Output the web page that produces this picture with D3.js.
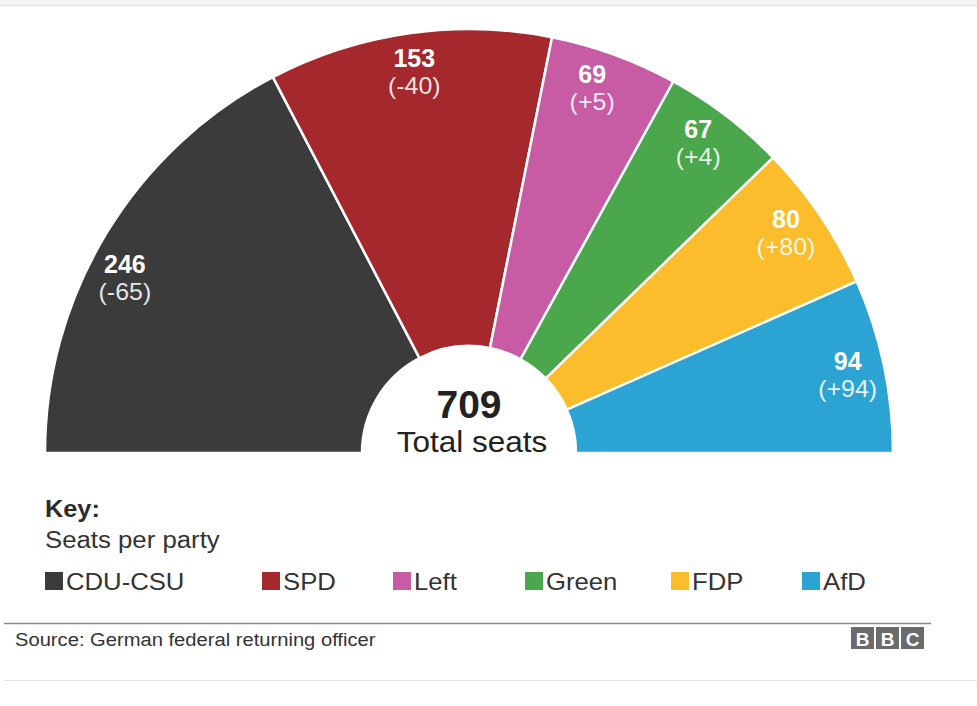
<!DOCTYPE html>
<html>
<head>
<meta charset="utf-8">
<script src="https://cdn.jsdelivr.net/npm/d3@7"></script>
<style>
  body { margin: 0; background: #fff; }
  text { font-family: "Liberation Sans", Arial, Helvetica, sans-serif; }
</style>
</head>
<body>
<div id="chart"></div>
<script>
// Data
var parties = ["CDU-CSU", "SPD", "Left", "Green", "FDP", "AfD"];
var seats = [246, 153, 69, 67, 80, 94];
var changes = ["(-65)", "(-40)", "(+5)", "(+4)", "(+80)", "(+94)"];
var colors = ["#3b3b3b", "#a4282c", "#c75ca5", "#4aa74b", "#fbbd2c", "#2ba3d3"];
var totalLabel = "Total seats";

// Layout (not data)
var svgWidth = 977;
var svgHeight = 706;
var cx = 469;
var cy = 453;
var outerR = 424;
var innerR = 107;
var labelR = 387;
var labelNudge = [-4, 0, -1.5, -1, -1, 0]; // degrees
var legendX = [45, 262, 393, 525, 671, 802];

// stretch text horizontally (reference type is a bit wider than Arial)
function widen(sel, k) {
    sel.each(function() {
        var w = this.getComputedTextLength();
        d3.select(this)
            .attr("textLength", w * k)
            .attr("lengthAdjust", "spacingAndGlyphs");
    });
}

var svg = d3.select("#chart")
    .append("svg")
    .attr("width", svgWidth)
    .attr("height", svgHeight);

// top strip
svg.append("rect")
    .attr("x", 0).attr("y", 0)
    .attr("width", svgWidth).attr("height", 5)
    .attr("fill", "#f3f3f3");
svg.append("line")
    .attr("x1", 0).attr("x2", svgWidth)
    .attr("y1", 5.5).attr("y2", 5.5)
    .attr("stroke", "#dedede")
    .attr("stroke-width", 1);

var data = parties.map(function(p, i) {
    return { party: p, seats: seats[i], change: changes[i], color: colors[i], i: i };
});

var total = d3.sum(seats);

var pie = d3.pie()
    .sort(null)
    .value(d => d.seats)
    .startAngle(-Math.PI / 2)
    .endAngle(Math.PI / 2);

var arc = d3.arc()
    .innerRadius(innerR)
    .outerRadius(outerR);

var labelArc = d3.arc()
    .innerRadius(labelR)
    .outerRadius(labelR);

var chartGroup = svg.append("g")
    .attr("transform", `translate(${cx}, ${cy})`);

var arcs = pie(data);

chartGroup.selectAll("path")
    .data(arcs)
    .enter()
    .append("path")
    .attr("d", arc)
    .attr("fill", d => d.data.color)
    .attr("stroke", "#fff")
    .attr("stroke-width", 2.5)
    .attr("stroke-linejoin", "round");

// slice labels
var labels = chartGroup.selectAll("g.label")
    .data(arcs)
    .enter()
    .append("g")
    .attr("class", "label")
    .attr("transform", function(d) {
        var n = labelNudge[d.data.i] * Math.PI / 180;
        var c = labelArc.centroid({ startAngle: d.startAngle + n, endAngle: d.endAngle + n });
        return `translate(${c[0]}, ${c[1]})`;
    });

labels.append("text")
    .attr("text-anchor", "middle")
    .attr("y", -3)
    .attr("fill", "#fff")
    .attr("font-size", 25)
    .attr("font-weight", "bold")
    .text(d => d.data.seats);

labels.append("text")
    .attr("text-anchor", "middle")
    .attr("y", 24)
    .attr("fill", "#fff")
    .attr("fill-opacity", 0.88)
    .attr("font-size", 24)
    .text(d => d.data.change)
    .call(widen, 1.04);

// centre total
chartGroup.append("text")
    .attr("text-anchor", "middle")
    .attr("y", -35)
    .attr("fill", "#222")
    .attr("font-size", 39)
    .attr("font-weight", "bold")
    .text(total);

chartGroup.append("text")
    .attr("text-anchor", "middle")
    .attr("x", 3)
    .attr("y", -1)
    .attr("fill", "#222")
    .attr("font-size", 30)
    .text(totalLabel)
    .call(widen, 1.05);

// Key
svg.append("text")
    .attr("x", 45).attr("y", 517)
    .attr("fill", "#2b2b2b")
    .attr("font-size", 23)
    .attr("font-weight", "bold")
    .text("Key:")
    .call(widen, 1.1);

svg.append("text")
    .attr("x", 45).attr("y", 548)
    .attr("fill", "#333")
    .attr("font-size", 23)
    .text("Seats per party")
    .call(widen, 1.12);

var legend = svg.selectAll("g.legend")
    .data(data)
    .enter()
    .append("g")
    .attr("class", "legend")
    .attr("transform", d => `translate(${legendX[d.i]}, 572)`);

legend.append("rect")
    .attr("width", 18)
    .attr("height", 18)
    .attr("fill", d => d.color);

legend.append("text")
    .attr("x", 21)
    .attr("y", 18)
    .attr("fill", "#333")
    .attr("font-size", 24)
    .text(d => d.party)
    .call(widen, 1.07);

// footer
svg.append("line")
    .attr("x1", 4).attr("x2", 931)
    .attr("y1", 623.5).attr("y2", 623.5)
    .attr("stroke", "#8a8a8a")
    .attr("stroke-width", 1.5);

svg.append("text")
    .attr("x", 15).attr("y", 646)
    .attr("fill", "#333")
    .attr("font-size", 18)
    .text("Source: German federal returning officer")
    .call(widen, 1.12);

var bbc = svg.append("g")
    .attr("transform", "translate(851, 627)");

bbc.selectAll("rect")
    .data(["B", "B", "C"])
    .enter()
    .append("rect")
    .attr("x", (d, i) => i * 25)
    .attr("width", 23)
    .attr("height", 22)
    .attr("fill", "#6b6b6b");

bbc.selectAll("text")
    .data(["B", "B", "C"])
    .enter()
    .append("text")
    .attr("x", (d, i) => i * 25 + 11.5)
    .attr("y", 18.5)
    .attr("text-anchor", "middle")
    .attr("fill", "#fff")
    .attr("font-size", 19)
    .attr("font-weight", "bold")
    .text(d => d);

svg.append("line")
    .attr("x1", 4).attr("x2", svgWidth)
    .attr("y1", 680.5).attr("y2", 680.5)
    .attr("stroke", "#e2e2e2")
    .attr("stroke-width", 1);
</script>
</body>
</html>
